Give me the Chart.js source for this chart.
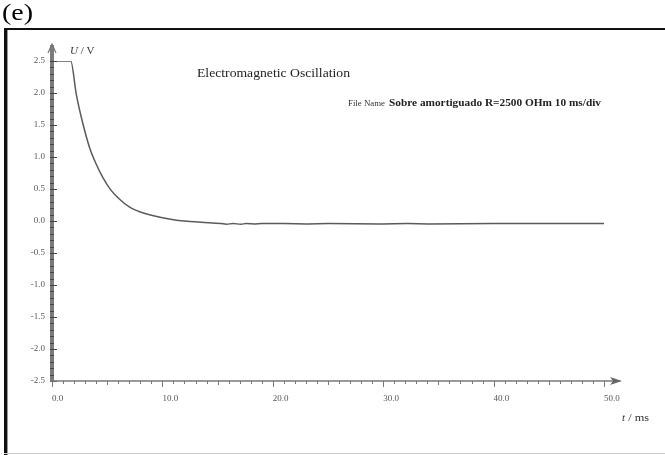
<!DOCTYPE html>
<html>
<head>
<meta charset="utf-8">
<script src="https://cdn.jsdelivr.net/npm/chart.js@4/dist/chart.umd.min.js"></script>
<style>
html,body{margin:0;padding:0;background:#fff;}
#wrap{position:relative;width:665px;height:455px;}
</style>
</head>
<body>
<div id="wrap"><canvas id="c" width="665" height="455"></canvas></div>
<script>
// ---- data ----
const timeMs = [0.4, 1.0, 1.7, 2.2, 2.8, 3.4, 4.0, 4.6, 5.3, 6.0, 7.0, 8.0, 9.0, 10.0, 11.0, 12.0, 13.5, 15.3, 15.8, 16.4, 17.1, 17.6, 18.4, 19.0, 21.0, 23.2, 25.0, 29.7, 32.2, 34.1, 40.0, 45.0, 50.0];
const voltageV = [2.5, 2.5, 2.5, 1.98, 1.52, 1.15, 0.89, 0.68, 0.49, 0.36, 0.22, 0.14, 0.09, 0.05, 0.02, 0.0, -0.02, -0.04, -0.05, -0.04, -0.05, -0.04, -0.045, -0.04, -0.04, -0.045, -0.04, -0.045, -0.04, -0.045, -0.04, -0.04, -0.04];
const xTicks = [0, 10, 20, 30, 40, 50];
const yTicks = [-2.5, -2.0, -1.5, -1.0, -0.5, 0.0, 0.5, 1.0, 1.5, 2.0, 2.5];
const chartTitle = 'Electromagnetic Oscillation';
const fileLabel = 'File Name';
const fileName = 'Sobre amortiguado R=2500 OHm 10 ms/div';
const yAxisTitle = ['U', ' / V'];
const xAxisTitle = ['t', ' / ms'];
const panelLabel = '(e)';

const points = timeMs.map((t, i) => ({x: t, y: voltageV[i]}));
const SERIF = '"Liberation Serif", "DejaVu Serif", serif';

function fitText(ctx, text, x, y, font, width) {
  ctx.save();
  ctx.font = font;
  const w = ctx.measureText(text).width;
  ctx.translate(x, y);
  ctx.scale(width / w, 1);
  ctx.fillText(text, 0, 0);
  ctx.restore();
}

const decor = {
  id: 'decor',
  afterDraw(chart) {
    const ctx = chart.ctx;
    const xs = chart.scales.x, ys = chart.scales.y;
    const x0 = xs.getPixelForValue(0);
    const yb = ys.getPixelForValue(-2.5);
    const yt = ys.getPixelForValue(2.5);
    const xe = xs.getPixelForValue(50);
    ctx.save();
    // frame
    ctx.fillStyle = '#111';
    ctx.fillRect(4, 28, 661, 2);
    ctx.fillRect(4, 28, 3, 427);
    ctx.fillStyle = '#999';
    ctx.fillRect(7, 30, 1, 425);
    ctx.fillStyle = '#ccc';
    ctx.fillRect(4, 453, 661, 1);

    // y axis band
    ctx.fillStyle = '#7a7a7a';
    ctx.fillRect(x0 - 2, yt - 16, 4, yb - yt + 16);
    ctx.strokeStyle = '#444';
    ctx.lineWidth = 1;
    for (let v = -2.5; v <= 2.501; v += 0.1) {
      const p = Math.round(ys.getPixelForValue(v)) + 0.5;
      const major = Math.abs(v * 2 - Math.round(v * 2)) < 1e-6;
      ctx.beginPath();
      ctx.moveTo(x0 - 2, p);
      ctx.lineTo(x0 + (major ? 5 : 2), p);
      ctx.stroke();
    }
    // y arrow
    ctx.strokeStyle = '#777';
    ctx.lineWidth = 1.2;
    ctx.beginPath();
    ctx.moveTo(x0 - 4, yt - 8);
    ctx.lineTo(x0, yt - 17);
    ctx.lineTo(x0 + 4, yt - 8);
    ctx.stroke();

    // x axis
    ctx.strokeStyle = '#777';
    ctx.lineWidth = 1.5;
    ctx.beginPath();
    ctx.moveTo(x0 - 2, yb);
    ctx.lineTo(xe + 16, yb);
    ctx.stroke();
    ctx.lineWidth = 1;
    for (let t = 0; t <= 50; t += 1) {
      const p = Math.round(xs.getPixelForValue(t)) + 0.5;
      const len = (t % 10 === 0) ? 6 : (t % 5 === 0 ? 4 : 3);
      ctx.beginPath();
      ctx.moveTo(p, yb);
      ctx.lineTo(p, yb + len);
      ctx.stroke();
    }
    // x arrow
    ctx.fillStyle = '#666';
    ctx.beginPath();
    ctx.moveTo(xe + 18, yb);
    ctx.lineTo(xe + 6, yb - 4);
    ctx.lineTo(xe + 9, yb);
    ctx.lineTo(xe + 6, yb + 4);
    ctx.closePath();
    ctx.fill();

    // texts
    ctx.textBaseline = 'alphabetic';
    ctx.textAlign = 'left';
    ctx.fillStyle = '#000';
    fitText(ctx, panelLabel, 2, 20, '23px ' + SERIF, 31);

    ctx.fillStyle = '#333';
    ctx.font = 'italic 11px ' + SERIF;
    ctx.fillText(yAxisTitle[0], 70, 54);
    let w = ctx.measureText(yAxisTitle[0]).width;
    ctx.font = '11px ' + SERIF;
    ctx.fillText(yAxisTitle[1], 70 + w, 54);

    ctx.font = 'italic 11px ' + SERIF;
    ctx.fillText(xAxisTitle[0], 622, 421);
    w = ctx.measureText(xAxisTitle[0]).width;
    ctx.font = '11px ' + SERIF;
    fitText(ctx, xAxisTitle[1], 622 + w, 421, '11px ' + SERIF, 24);

    ctx.fillStyle = '#222';
    fitText(ctx, chartTitle, 197, 77, '12.5px ' + SERIF, 153);

    ctx.fillStyle = '#333';
    fitText(ctx, fileLabel, 348, 106, '8.5px ' + SERIF, 37);
    ctx.fillStyle = '#222';
    fitText(ctx, fileName, 389, 106, 'bold 9.5px ' + SERIF, 212);
    ctx.restore();
  }
};

new Chart(document.getElementById('c'), {
  type: 'line',
  data: {
    datasets: [{
      data: points,
      borderColor: '#5a5a5a',
      borderWidth: 1.5,
      pointRadius: 0,
      fill: false,
      cubicInterpolationMode: 'monotone'
    }]
  },
  options: {
    responsive: false,
    animation: false,
    layout: {padding: {left: 0, right: 61, top: 61, bottom: 0}},
    plugins: {legend: {display: false}, tooltip: {enabled: false}, title: {display: false}},
    scales: {
      x: {
        type: 'linear', min: 0, max: 50,
        afterBuildTicks(s) { s.ticks = xTicks.map(v => ({value: v})); },
        afterFit(s) { s.height = 74; },
        grid: {display: false, drawTicks: false, tickLength: 0}, border: {display: false},
        ticks: {
          align: 'start', padding: 12, color: '#555', maxRotation: 0,
          font: {family: SERIF, size: 9},
          callback: v => Number(v).toFixed(1)
        }
      },
      y: {
        type: 'linear', min: -2.5, max: 2.5,
        afterBuildTicks(s) { s.ticks = yTicks.map(v => ({value: v})); },
        afterFit(s) { s.width = 52; },
        grid: {display: false, drawTicks: false, tickLength: 0}, border: {display: false},
        ticks: {
          padding: 7, color: '#555',
          font: {family: SERIF, size: 9},
          callback: v => Number(v).toFixed(1)
        }
      }
    }
  },
  plugins: [decor]
});
</script>
</body>
</html>
